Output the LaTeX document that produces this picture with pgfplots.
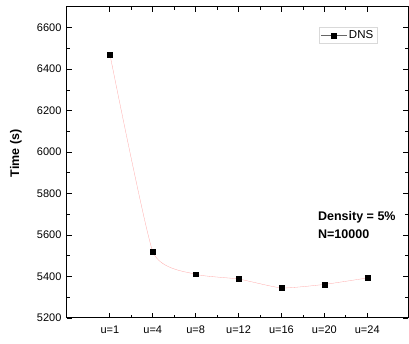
\documentclass[border=0pt]{standalone}
\usepackage{pgfplots}
\pgfplotsset{compat=1.18}
\usepackage{fontspec}
\setmainfont{Liberation Sans}
\begin{document}
\begin{tikzpicture}
\begin{axis}[
  name=ax,
  scale only axis,
  width=341pt, height=311pt,
  xmin=0, xmax=7.95,
  ymin=5200, ymax=6700,
  xtick={1,2,3,4,5,6,7},
  xticklabels={u=1,u=4,u=8,u=12,u=16,u=20,u=24},
  minor x tick num=1,
  ytick={5200,5400,5600,5800,6000,6200,6400,6600},
  minor y tick num=1,
  tick align=inside,
  major tick length=5pt,
  minor tick length=3pt,
  every tick/.style={black, line width=0.8pt},
  axis line style={line width=1pt},
  tick label style={font=\fontsize{11}{12}\selectfont},
  xticklabel style={yshift=-4pt},
  yticklabel style={xshift=-2pt},
  /pgf/number format/assume math mode=true,
  /pgf/number format/1000 sep={},
  ylabel={\textbf{Time (s)}},
  ylabel style={at={(axis description cs:0,0.53)}, anchor=center, yshift=51pt, font=\fontsize{12.5}{13}\selectfont},
  legend style={at={(0.909,0.936)}, anchor=north east, draw=black!15, font=\fontsize{11.5}{12}\selectfont, inner sep=1.5pt},
  legend cell align=left,
  legend image code/.code={\draw[#1, mark repeat=2, mark phase=2] plot coordinates {(0pt,0pt) (13pt,0pt) (26pt,0pt)};},
  clip=false,
]
\addplot[red!35, line width=0.3pt, smooth, tension=0.3, mark=square*, mark size=2.4pt, mark options={black, fill=black, draw=black}, forget plot] coordinates {
(1,6472) (2,5520) (3,5411) (4,5388) (5,5345) (6,5362) (7,5393)
};
\addlegendimage{black!60, line width=0.4pt, mark=square*, mark size=2.4pt, mark options={black, fill=black}}
\addlegendentry{DNS}
\node[anchor=north west, inner sep=0pt, align=left, font=\bfseries\fontsize{12.5}{18}\selectfont] at (axis cs:5.85,5716) {Density = 5\%\\N=10000};
\end{axis}
\pgfresetboundingbox
\path[use as bounding box] ([xshift=-67pt,yshift=-26pt]ax.south west) rectangle ([xshift=1pt,yshift=7pt]ax.north east);
\end{tikzpicture}
\end{document}
